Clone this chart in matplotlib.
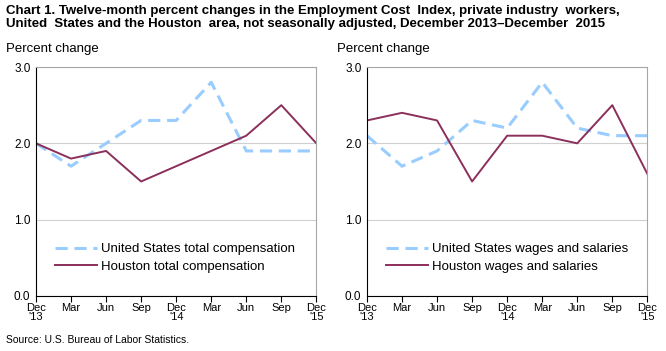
import matplotlib
matplotlib.use('Agg')
import matplotlib.pyplot as plt

plt.rcParams['font.family'] = ['Liberation Sans', 'DejaVu Sans']

months = ["Dec\n'13", 'Mar', 'Jun', 'Sep', "Dec\n'14", 'Mar', 'Jun', 'Sep', "Dec\n'15"]

us_total = [2.0, 1.7, 2.0, 2.3, 2.3, 2.8, 1.9, 1.9, 1.9]
hou_total = [2.0, 1.8, 1.9, 1.5, 1.7, 1.9, 2.1, 2.5, 2.0]

us_wages = [2.1, 1.7, 1.9, 2.3, 2.2, 2.8, 2.2, 2.1, 2.1]
hou_wages = [2.3, 2.4, 2.3, 1.5, 2.1, 2.1, 2.0, 2.5, 1.6]

us_color = '#99CCFF'
hou_color = '#8B2F5B'

fig = plt.figure(figsize=(6.66, 3.51), dpi=100)

fig.text(0.009, 0.985,
         'Chart 1. Twelve-month percent changes in the Employment Cost  Index, private industry  workers,\n'
         'United  States and the Houston  area, not seasonally adjusted, December 2013\u2013December  2015',
         fontsize=9.5, fontweight='bold', va='top', ha='left', linespacing=1.05)
fig.text(0.009, 0.018, 'Source: U.S. Bureau of Labor Statistics.', fontsize=7.5, ha='left', va='bottom')

panels = [
    (0.054, us_total, hou_total, 'United States total compensation', 'Houston total compensation'),
    (0.551, us_wages, hou_wages, 'United States wages and salaries', 'Houston wages and salaries'),
]

for x0, us, hou, us_lab, hou_lab in panels:
    ax = fig.add_axes([x0, 0.157, 0.421, 0.652])
    x = list(range(len(months)))
    ax.plot(x, us, color=us_color, lw=2.2, dashes=(4, 2.2), label=us_lab)
    ax.plot(x, hou, color=hou_color, lw=1.4, label=hou_lab)
    ax.set_xlim(0, len(months) - 1)
    ax.set_ylim(0, 3.0)
    ax.set_yticks([0, 1.0, 2.0, 3.0])
    ax.set_yticklabels(['0.0', '1.0', '2.0', '3.0'], fontsize=8.5)
    ax.set_xticks(x)
    ax.set_xticklabels(months, fontsize=8, linespacing=0.95)
    ax.tick_params(axis='y', length=0, pad=4)
    ax.tick_params(axis='x', length=4, direction='out', color='black', pad=1)
    ax.grid(axis='y', color='#D0D0D0', lw=0.8)
    ax.set_axisbelow(True)
    for s in ['top', 'right']:
        ax.spines[s].set_color('#A6A6A6')
        ax.spines[s].set_linewidth(0.8)
    for s in ['left', 'bottom']:
        ax.spines[s].set_color('black')
        ax.spines[s].set_linewidth(0.8)
    ax.legend(loc='lower left', bbox_to_anchor=(0.05, 0.078), frameon=False,
              fontsize=9.5, handlelength=3.2, handletextpad=0.3, labelspacing=0.4,
              borderaxespad=0)
    fig.text(x0 - 0.045, 0.843, 'Percent change', fontsize=9.5, ha='left', va='bottom')

fig.savefig('out.png', dpi=100)
